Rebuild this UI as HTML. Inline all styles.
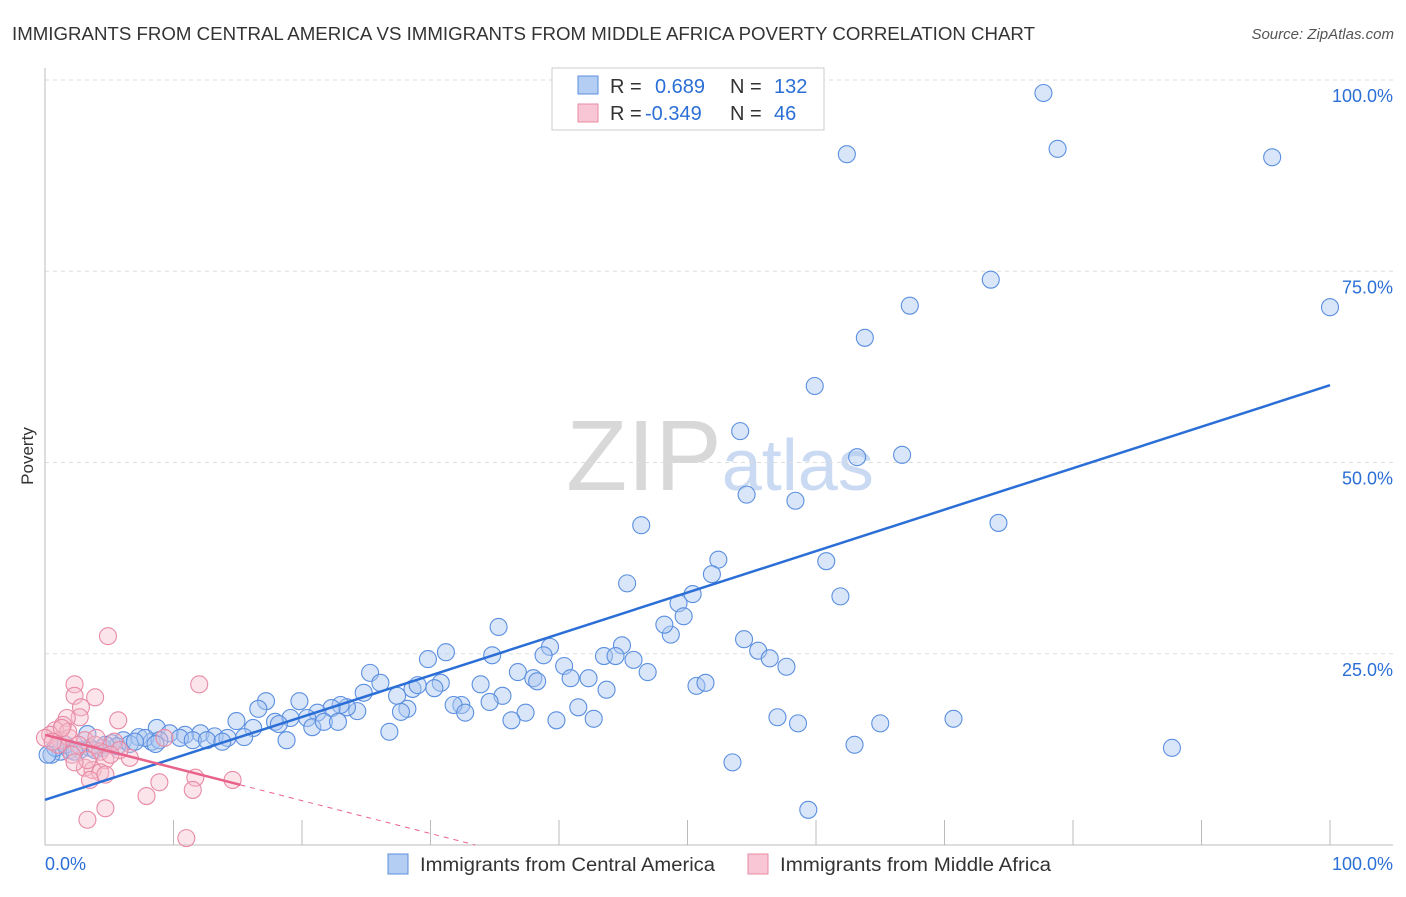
<!DOCTYPE html>
<html><head><meta charset="utf-8"><style>
body{margin:0;background:#fff;font-family:"Liberation Sans",sans-serif}
svg text{font-family:"Liberation Sans",sans-serif}
</style></head><body>
<svg id="c" width="1406" height="892">
<text x="12" y="40" font-size="18" fill="#333" textLength="1023" lengthAdjust="spacingAndGlyphs">IMMIGRANTS FROM CENTRAL AMERICA VS IMMIGRANTS FROM MIDDLE AFRICA POVERTY CORRELATION CHART</text>
<text x="1394" y="39" font-size="15" fill="#555" text-anchor="end" font-style="italic">Source: ZipAtlas.com</text>
<text x="720" y="490" font-size="100" fill="#d8d8d8" text-anchor="middle" font-family="Liberation Serif">ZIP<tspan fill="#c9daf2" font-family="Liberation Sans" font-size="72">atlas</tspan></text>
<text transform="translate(33,456) rotate(-90)" font-size="17" fill="#333" text-anchor="middle">Poverty</text>
<g id="grid"></g><g id="pts"></g><g id="lines"></g>
<g>
<rect x="552" y="68" width="272" height="62" fill="#fff" stroke="#ccc"/>
<rect x="578" y="76" width="20" height="18" fill="#b3cdf3" stroke="#5b8fdf"/>
<rect x="578" y="104" width="20" height="18" fill="#f8c6d4" stroke="#e88aa5"/>
<text x="610" y="93" font-size="20" fill="#333">R =</text><text x="655" y="93" font-size="20" fill="#2b6fd6">0.689</text>
<text x="730" y="93" font-size="20" fill="#333">N =</text><text x="774" y="93" font-size="20" fill="#2b6fd6">132</text>
<text x="610" y="120" font-size="20" fill="#333">R =</text><text x="645" y="120" font-size="20" fill="#2b6fd6">-0.349</text>
<text x="730" y="120" font-size="20" fill="#333">N =</text><text x="774" y="120" font-size="20" fill="#2b6fd6">46</text>
</g>
<g>
<rect x="388" y="854" width="20" height="20" fill="#b3cdf3" stroke="#5b8fdf"/>
<text x="420" y="871" font-size="19" fill="#333" textLength="295" lengthAdjust="spacingAndGlyphs">Immigrants from Central America</text>
<rect x="748" y="854" width="20" height="20" fill="#f8c6d4" stroke="#e88aa5"/>
<text x="780" y="871" font-size="19" fill="#333" textLength="271" lengthAdjust="spacingAndGlyphs">Immigrants from Middle Africa</text>
</g>
<text x="45" y="870" font-size="18" fill="#2b6fd6">0.0%</text>
<text x="1393" y="870" font-size="18" fill="#2b6fd6" text-anchor="end">100.0%</text>
</svg>
<script>
const yTicks=[25,50,75,100];
const yTickLabels=["25.0%","50.0%","75.0%","100.0%"];
const blueX=[77.7,62.4,78.8,95.5,73.6,67.3,100,63.8,59.9,54.1,63.2,66.7,54.6,58.4,46.4,74.2,52.4,45.3,60.8,51.9,50.4,49.3,61.9,49.7,48.7,48.2,35.3,54.4,44.9,39.3,55.5,43.5,44.4,56.4,45.8,57.7,38.8,36.8,25.3,26.1,29.8,31.2,34.8,40.4,38.0,38.3,40.9,42.3,46.9,33.9,27.4,30.8,28.6,30.3,24.8,29.0,43.7,50.7,51.4,17.2,19.8,35.6,34.6,32.4,28.2,27.7,16.6,31.8,32.7,24.3,23.5,23.0,22.3,37.4,41.5,36.3,39.8,42.7,21.2,20.4,19.1,17.9,14.9,18.2,16.2,20.8,21.7,22.8,26.8,18.8,57.0,58.6,65.0,70.7,63.0,87.7,53.5,59.4,8.7,9.7,10.9,12.1,13.2,14.2,15.5,10.5,11.5,12.6,13.8,7.3,8.3,6.1,5.2,5.6,4.5,3.5,2.7,1.9,1.2,0.5,0.8,1.6,2.3,3.9,6.6,7.8,8.9,3.3,0.2,8.6,7.0,4.7];
const blueY=[98.3,90.3,91.0,89.9,73.9,70.5,70.3,66.3,60.0,54.1,50.7,51.0,45.8,45.0,41.8,42.1,37.3,34.2,37.1,35.4,32.8,31.6,32.5,29.9,27.5,28.8,28.5,26.9,26.1,25.9,25.4,24.7,24.7,24.4,24.2,23.3,24.8,22.6,22.5,21.2,24.3,25.2,24.8,23.4,21.8,21.4,21.8,21.8,22.6,21.0,19.5,21.2,20.4,20.5,19.9,20.9,20.3,20.8,21.2,18.8,18.8,19.5,18.7,18.3,17.8,17.4,17.8,18.3,17.3,17.5,18.0,18.3,17.9,17.3,18.0,16.3,16.3,16.5,17.3,16.6,16.6,16.1,16.2,15.8,15.3,15.4,16.1,16.1,14.8,13.7,16.7,15.9,15.9,16.5,13.1,12.7,10.8,4.6,15.3,14.6,14.4,14.6,14.2,14.0,14.1,14.0,13.7,13.7,13.5,14.1,13.5,13.7,13.3,12.9,12.7,12.7,12.4,12.4,12.2,11.8,12.7,13.1,12.2,12.4,13.2,14.0,13.7,14.5,11.8,13.2,13.5,13.1];
const pinkX=[4.9,12.0,2.3,2.3,3.9,2.8,2.7,5.7,1.7,1.4,0.8,0.4,0,1.2,1.9,3.1,3.9,4.3,4.7,3.1,3.7,4.3,4.7,6.6,3.5,11.7,8.9,14.6,11.5,7.9,4.7,3.3,11.0,9.3,2.6,2.1,1.0,1.8,0.6,5.4,5.8,3.3,2.3,1.3,4.0,5.1];
const pinkY=[27.3,21.0,21.0,19.5,19.3,18.0,16.7,16.3,16.6,15.7,15.0,14.4,14.0,13.7,14.0,13.7,13.1,12.2,11.1,10.1,9.8,9.5,9.2,11.4,8.5,8.8,8.2,8.5,7.2,6.4,4.8,3.3,0.9,14.0,13.1,11.8,13.1,14.8,13.5,13.5,12.4,11.1,10.8,15.3,14.0,11.8];
const blueFit=[5.9,60.1];   // y at x=0, x=100
const pinkFit=[14.4,-0.43]; // intercept, slope
const pinkSolidEnd=15.2;
const NS="http://www.w3.org/2000/svg";
const sx=v=>45+v*12.85, sy=v=>845-v*7.65;
function mk(t,a,p){const e=document.createElementNS(NS,t);for(const k in a)e.setAttribute(k,a[k]);p.appendChild(e);return e;}
const grid=document.getElementById('grid');
yTicks.forEach((t,i)=>{
  const l=mk('line',{x1:45,x2:1393,y1:sy(t),y2:sy(t),stroke:'#ddd','stroke-dasharray':'4,4'},grid);
  
  
  const tx=mk('text',{x:1393,y:sy(t)+22,'font-size':18,fill:'#2b6fd6','text-anchor':'end'},grid);
  tx.textContent=yTickLabels[i];
  
  
});
mk('line',{x1:45,x2:45,y1:68,y2:845,stroke:'#bbb'},grid);
mk('line',{x1:45,x2:1393,y1:845,y2:845,stroke:'#bbb'},grid);
for(let v=10;v<=100;v+=10){const t=mk('line',{x1:sx(v),x2:sx(v),y1:820,y2:845,stroke:'#bbb'},grid);
  
  }
const pts=document.getElementById('pts');
blueX.forEach((x,i)=>{const c=mk('circle',{cx:sx(x),cy:sy(blueY[i]),r:8.5,fill:'rgba(170,200,242,0.45)',stroke:'#5b8fdf','stroke-width':1.1},pts);
  
  });
pinkX.forEach((x,i)=>{const c=mk('circle',{cx:sx(x),cy:sy(pinkY[i]),r:8.5,fill:'rgba(246,190,206,0.4)',stroke:'#e88aa5','stroke-width':1.1},pts);
  
  });
const lines=document.getElementById('lines');
const bl=mk('line',{x1:sx(0),y1:sy(blueFit[0]),x2:sx(100),y2:sy(blueFit[1]),stroke:'#2b6fd6','stroke-width':2.5},lines);


const pf=x=>pinkFit[0]+pinkFit[1]*x;
const pl=mk('line',{x1:sx(0),y1:sy(pf(0)),x2:sx(pinkSolidEnd),y2:sy(pf(pinkSolidEnd)),stroke:'#e8628a','stroke-width':2.5},lines);


const xEnd=-pinkFit[0]/pinkFit[1];
const pd=mk('line',{x1:sx(pinkSolidEnd),y1:sy(pf(pinkSolidEnd)),x2:sx(xEnd),y2:sy(0),stroke:'#e8628a','stroke-width':1,'stroke-dasharray':'5,5'},lines);


</script>
</body></html>
